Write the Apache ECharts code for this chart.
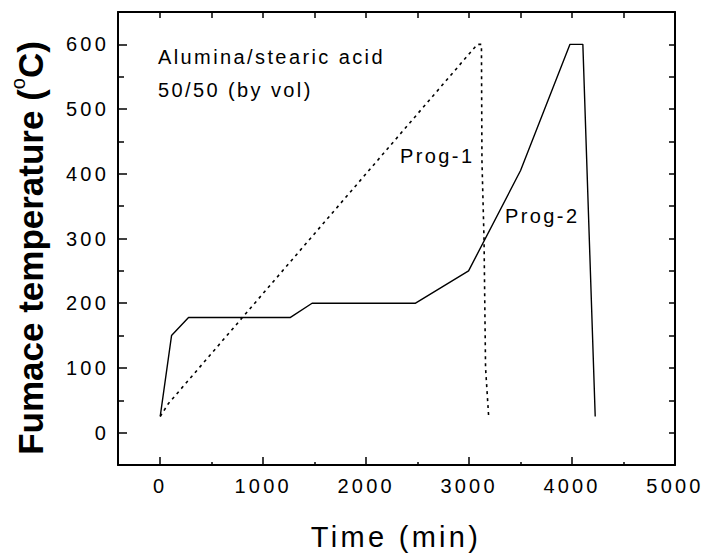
<!DOCTYPE html>
<html>
<head>
<meta charset="utf-8">
<script src="https://cdn.jsdelivr.net/npm/echarts@6/dist/echarts.min.js"></script>
<style>
html,body{margin:0;padding:0;background:#fff;}
#chart{width:706px;height:556px;}
</style>
</head>
<body>
<div id="chart"></div>
<script>
// ---- data ----
const prog1Time = [0, 80, 3080, 3120, 3125, 3145, 3160, 3190];
const prog1Temp = [25, 45, 600, 600, 420, 300, 100, 25];
const prog2Time = [0, 110, 275, 1265, 1475, 2480, 2995, 3500, 3980, 4105, 4225];
const prog2Temp = [25, 150, 178, 178, 200, 200, 250, 405, 600, 600, 25];
const xMajorTicks = [0, 1000, 2000, 3000, 4000, 5000];
const xMinorTicks = [500, 1500, 2500, 3500, 4500];
const xTopTicks = [0, 500, 1000, 1500, 2000, 2500, 3000, 3500, 4000, 4500];
const yMajorTicks = [0, 100, 200, 300, 400, 500, 600];
const yMinorTicks = [50, 150, 250, 350, 450, 550];
const yRightTicks = [0, 50, 100, 150, 200, 250, 300, 350, 400, 450, 500, 550, 600];
const xRange = [-410, 5000];
const yRange = [-50, 650];

const FONT = '"Liberation Sans", Arial, sans-serif';
const BLACK = '#000';

function pairs(xs, ys) { return xs.map((x, i) => [x, ys[i]]); }
function plain(v) { return String(v); }

function xAxisCfg(pos, ticks, len, showLine, labels) {
  return {
    type: 'value', position: pos, min: xRange[0], max: xRange[1],
    axisLine: { show: showLine, onZero: false, lineStyle: { color: BLACK, width: 2 } },
    axisTick: { show: true, inside: true, length: len, customValues: ticks, lineStyle: { color: BLACK, width: 1.5 } },
    axisLabel: labels ? { show: true, customValues: labels, formatter: plain, margin: 11, color: BLACK, fontSize: 20, fontFamily: FONT } : { show: false },
    splitLine: { show: false }
  };
}
function yAxisCfg(pos, ticks, len, showLine, labels) {
  return {
    type: 'value', position: pos, min: yRange[0], max: yRange[1],
    axisLine: { show: showLine, onZero: false, lineStyle: { color: BLACK, width: 2 } },
    axisTick: { show: true, inside: true, length: len, customValues: ticks, lineStyle: { color: BLACK, width: 1.5 } },
    axisLabel: labels ? { show: true, customValues: labels, formatter: plain, margin: 9, color: BLACK, fontSize: 20, fontFamily: FONT } : { show: false },
    splitLine: { show: false }
  };
}

const chart = echarts.init(document.getElementById('chart'), null, { renderer: 'svg' });
chart.setOption({
  animation: false,
  backgroundColor: '#fff',
  grid: { left: 118, right: 31, top: 12, bottom: 91, containLabel: false, outerBoundsMode: 'none' },
  xAxis: [
    xAxisCfg('bottom', xMajorTicks, 8, true, xMajorTicks),
    xAxisCfg('bottom', xMinorTicks, 3, false, null),
    xAxisCfg('top', xTopTicks, 6, true, null)
  ],
  yAxis: [
    yAxisCfg('left', yMajorTicks, 9, true, yMajorTicks),
    yAxisCfg('left', yMinorTicks, 6, false, null),
    yAxisCfg('right', yRightTicks, 6, true, null)
  ],
  series: [
    {
      name: 'Prog-1', type: 'line', xAxisIndex: 0, yAxisIndex: 0,
      data: pairs(prog1Time, prog1Temp), showSymbol: false, symbol: 'none', silent: true,
      lineStyle: { color: BLACK, width: 1.6, type: [3, 4] }
    },
    {
      name: 'Prog-2', type: 'line', xAxisIndex: 0, yAxisIndex: 0,
      data: pairs(prog2Time, prog2Temp), showSymbol: false, symbol: 'none', silent: true,
      lineStyle: { color: BLACK, width: 1.4 }
    }
  ],
  graphic: [
    {
      type: 'text', x: 30, y: 248, rotation: Math.PI / 2, scaleX: 1,
      style: {
        text: 'Fumace temperature ({sup|o}C)',
        fontSize: 35, fontWeight: 'bold', fontFamily: FONT, fill: BLACK,
        align: 'center', verticalAlign: 'middle', lineHeight: 44,
        rich: { sup: { fontSize: 20, fontWeight: 'normal', fontFamily: FONT, fill: BLACK, verticalAlign: 'top', lineHeight: 20 } }
      }
    },
    {
      type: 'text', x: 396, y: 537,
      style: { text: 'Time (min)', fontSize: 29, fontFamily: FONT, fill: BLACK, align: 'center', verticalAlign: 'middle' }
    },
    { type: 'text', x: 158, y: 57, style: { text: 'Alumina/stearic acid', fontSize: 20, fontFamily: FONT, fill: BLACK, align: 'left', verticalAlign: 'middle' } },
    { type: 'text', x: 158, y: 90, style: { text: '50/50 (by vol)', fontSize: 20, fontFamily: FONT, fill: BLACK, align: 'left', verticalAlign: 'middle' } },
    { type: 'text', x: 400, y: 156, style: { text: 'Prog-1', fontSize: 20, fontFamily: FONT, fill: BLACK, align: 'left', verticalAlign: 'middle' } },
    { type: 'text', x: 505, y: 216, style: { text: 'Prog-2', fontSize: 20, fontFamily: FONT, fill: BLACK, align: 'left', verticalAlign: 'middle' } }
  ]
});

// the reference text is drawn with wide letter spacing
function applySpacing() {
  document.querySelectorAll('#chart svg text').forEach(function (t) {
    const s = t.textContent;
    let sp = 2.4;
    if (/^-?\d+$/.test(s)) sp = 3.2;
    else if (s === 'Time (min)') sp = 3.3;
    else if (/Fumace|^o$|^C\)$/.test(s)) sp = 0;
    t.setAttribute('letter-spacing', sp);
  });
}
applySpacing();
chart.on('finished', applySpacing);
</script>
</body>
</html>
